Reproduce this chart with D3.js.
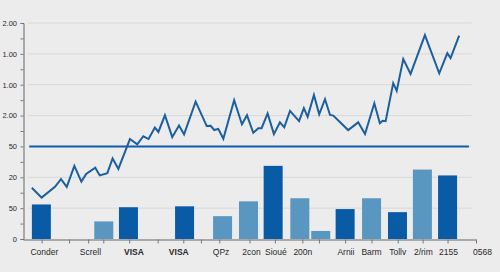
<!DOCTYPE html>
<html><head><meta charset="utf-8">
<script src="https://cdn.jsdelivr.net/npm/d3@7"></script>
<style>
html,body{margin:0;padding:0;background:#ececec;}
svg{display:block;font-family:"Liberation Sans",Arial,sans-serif;}
</style></head>
<body><svg id="c" width="500" height="272"></svg>
<script>
// y tick labels (value index 0..7)
const yTickValues = [0,1,2,3,4,5,6,7];
const yTickLabels = ["0","50","20","50","2.00","1.00","1.00","2.00"];
// x axis tick positions (domain units)
const xTickValues = [0.74,1.83,2.59,3.19,4.22,5.35,6.37,7.07,7.8,9.0,10.01,11.1,11.76,12.8,13.85,14.89,15.88,16.87,18];
// category labels and their positions
const categories = ["Conder","Screll","VISA","VISA","QPz","2con","Sioué","200n","Arnii","Barm","Tollv","2/rim","2155","0568"];
const categoryPos = [0.85,2.68,4.41,6.19,7.87,9.08,10.05,11.12,12.83,13.85,14.89,15.91,16.91,18.26];
const boldCategories = ["VISA"];
// bars
const barPos   = [0.73,3.21,4.19,6.42,7.93,8.96,9.94,11.0,11.83,12.80,13.85,14.88,15.87,16.87];
const barValue = [1.12,0.57,1.03,1.06,0.74,1.22,2.37,1.32,0.26,0.97,1.32,0.87,2.25,2.06];
const barTone  = ["dark","light","dark","dark","light","light","dark","light","light","dark","light","dark","light","dark"];
// line series
const lineX = [0.35,0.74,1.27,1.51,1.74,2.04,2.32,2.51,2.87,3.05,3.35,3.56,3.79,4.25,4.54,4.78,4.99,5.24,5.38,5.64,5.93,6.20,6.40,6.86,7.30,7.46,7.60,7.76,7.96,8.39,8.70,8.90,9.15,9.35,9.48,9.72,9.97,10.21,10.38,10.61,10.97,11.16,11.31,11.56,11.77,12.00,12.20,12.33,12.92,13.32,13.59,13.96,14.18,14.29,14.41,14.71,14.85,15.11,15.40,15.97,16.54,16.86,16.99,17.33];
const lineY = [1.66,1.34,1.69,1.94,1.69,2.37,1.86,2.11,2.31,2.06,2.13,2.61,2.27,3.24,3.07,3.33,3.24,3.61,3.47,4.01,3.30,3.68,3.39,4.45,3.66,3.67,3.53,3.57,3.25,4.50,3.72,4.01,3.44,3.59,3.59,4.07,3.40,3.78,3.62,4.15,3.82,4.24,3.96,4.67,4.04,4.53,4.02,4.00,3.53,3.78,3.40,4.40,3.75,3.83,3.82,5.05,4.80,5.83,5.35,6.61,5.37,6.02,5.86,6.59];
// reference line
const refValue = 3;
const refFrom = 0.25, refTo = 17.72;

const svg = d3.select("#c");
const x = d3.scaleLinear().domain([0,18]).range([23,476]);
const y = d3.scaleLinear().domain([0,7]).range([239,23]);
const barW = x(0.755) - x(0);
const colors = {dark:"#0a5ba6", light:"#5a97c0"};

// gridlines
svg.append("g").selectAll("line").data(yTickValues.filter(v=>v>0)).join("line")
  .attr("x1",28).attr("x2",471.5)
  .attr("y1",d=>y(d)).attr("y2",d=>y(d))
  .attr("stroke","#d8d8d8").attr("stroke-width",1);

// bars
svg.append("g").selectAll("rect").data(barPos.map((p,i)=>({p,v:barValue[i],t:barTone[i]}))).join("rect")
  .attr("x",d=>x(d.p)-barW/2).attr("width",barW)
  .attr("y",d=>y(d.v)).attr("height",d=>y(0)-y(d.v))
  .attr("fill",d=>colors[d.t]);

// reference line
svg.append("line").attr("x1",x(refFrom)).attr("x2",x(refTo))
  .attr("y1",y(refValue)).attr("y2",y(refValue))
  .attr("stroke","#115fa6").attr("stroke-width",2);

// line series
const pts = lineX.map((v,i)=>[v,lineY[i]]);
svg.append("path").datum(pts)
  .attr("d",d3.line().x(d=>x(d[0])).y(d=>y(d[1])))
  .attr("fill","none").attr("stroke","#1b5f9f").attr("stroke-width",2).attr("stroke-linejoin","miter");

// y axis
const yTicksAll = d3.range(0,7.01,0.5);
const yAxis = d3.axisLeft(y).tickValues(yTicksAll).tickSize(3).tickPadding(3.5)
  .tickFormat(d=>Number.isInteger(d)?yTickLabels[yTickValues.indexOf(d)]:"");
const gy = svg.append("g").attr("transform","translate(23.5,0)").call(yAxis);
gy.select(".domain").attr("stroke","#666");
gy.selectAll(".tick line").attr("stroke","#777");
gy.selectAll("text").attr("fill","#2a2a2a").style("font-size","7.5px").style("font-family","Liberation Sans, Arial, sans-serif");

// x axis
const xAxis = d3.axisBottom(x).tickValues(xTickValues).tickSize(4).tickSizeOuter(0).tickFormat("");
const gx = svg.append("g").attr("transform","translate(0,239.5)").call(xAxis);
gx.select(".domain").attr("stroke","#666");
gx.selectAll(".tick line").attr("stroke","#777");

// category labels
svg.append("g").selectAll("text").data(categories.map((c,i)=>({c,p:categoryPos[i]}))).join("text")
  .attr("x",d=>x(d.p)).attr("y",255)
  .attr("text-anchor","middle")
  .attr("fill","#2a2a2a")
  .style("font-size","8.5px")
  .style("font-weight",d=>boldCategories.includes(d.c)?"bold":"normal")
  .text(d=>d.c);
</script></body></html>
